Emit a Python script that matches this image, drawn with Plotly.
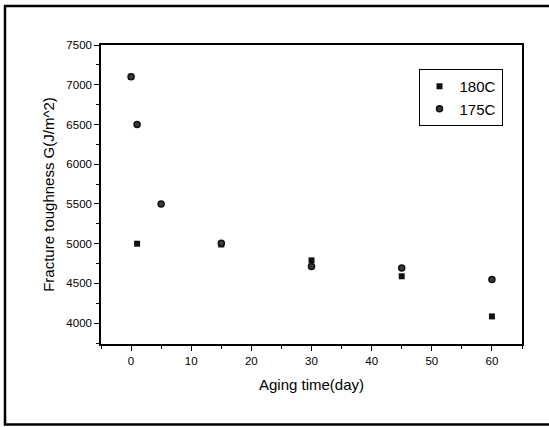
import plotly.graph_objects as go

# Data
days_180 = [0, 1, 15, 30, 45, 60]
g_180 = [7100, 5000, 4990, 4790, 4590, 4085]
days_175 = [0, 1, 5, 15, 30, 45, 60]
g_175 = [7100, 6500, 5500, 5005, 4712, 4695, 4548]

x_tickvals = [0, 10, 20, 30, 40, 50, 60]
y_tickvals = [4000, 4500, 5000, 5500, 6000, 6500, 7000, 7500]

W, H = 549, 427
L, R, T, B = 101, 27, 45, 83
pw, ph = W - L - R, H - T - B

def px2paper_x(px):
    return (px - L) / pw

def px2paper_y(py):
    return (H - B - py) / ph

fig = go.Figure()
fig.add_trace(go.Scatter(
    x=days_180, y=g_180, mode="markers", name="180C",
    marker=dict(symbol="square", size=6, color="#111111", line=dict(width=0)),
))
fig.add_trace(go.Scatter(
    x=days_175, y=g_175, mode="markers", name="175C",
    marker=dict(symbol="circle", size=6, color="#3a3a3a",
                line=dict(width=1.5, color="#111111")),
))

font = "Liberation Sans, Arial, sans-serif"
axis_common = dict(
    showline=True, linecolor="black", linewidth=1.5, mirror=True,
    ticks="outside", ticklen=5, tickwidth=1.2, tickcolor="black",
    showgrid=False, zeroline=False,
    tickfont=dict(family=font, size=11.5, color="black"),
)
fig.update_xaxes(
    range=[-5, 65], tickvals=x_tickvals,
    minor=dict(dtick=5, ticks="outside", ticklen=3, tickcolor="black", tickwidth=1),
    title=dict(text="Aging time(day)", font=dict(family=font, size=15, color="black"), standoff=14),
    **axis_common,
)
fig.update_yaxes(
    range=[3738, 7500], tickvals=y_tickvals,
    minor=dict(dtick=250, tick0=0, ticks="outside", ticklen=3, tickcolor="black", tickwidth=1),
    title=dict(text="Fracture toughness G(J/m^2)", font=dict(family=font, size=15, color="black"), standoff=8),
    **axis_common,
)

# outer frame of the picture (left, top and bottom edges; right edge is off the picture)
fig.add_shape(type="rect", xref="paper", yref="paper",
              x0=px2paper_x(5), x1=px2paper_x(600), y0=px2paper_y(424.5), y1=px2paper_y(6),
              line=dict(color="black", width=2.5), fillcolor="rgba(0,0,0,0)", layer="below")

fig.update_layout(
    width=W, height=H,
    margin=dict(l=L, r=R, t=T, b=B),
    paper_bgcolor="white", plot_bgcolor="white",
    showlegend=True,
    legend=dict(
        x=px2paper_x(418.5), y=px2paper_y(69), xanchor="left", yanchor="top",
        bordercolor="black", borderwidth=1, bgcolor="white",
        font=dict(family=font, size=15, color="black"),
        itemwidth=30, tracegroupgap=0,
    ),
)

fig.write_html("out.html", config={"displayModeBar": False},
               post_script="document.body.style.margin='0';document.body.style.overflow='hidden';")
